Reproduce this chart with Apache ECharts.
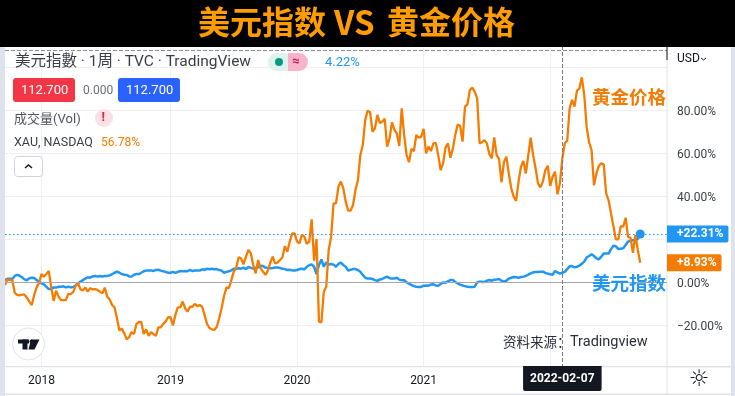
<!DOCTYPE html>
<html>
<head>
<meta charset="utf-8">
<title>美元指数 VS 黄金价格</title>
<style>
html, body { margin: 0; padding: 0; background: #fff; }
#chart { width: 735px; height: 396px; }
</style>
<script src="https://cdn.jsdelivr.net/npm/echarts@6/dist/echarts.min.js"></script>
</head>
<body>
<div id="chart"></div>
<script>
// 周线，第一根 2017-09-18，单位 %
const firstWeek = '2017-09-18'
const weekCount = 273 // 最后 11 周是图右侧的留白

const goldValues = [
    -1.4, 1.2, 0.9, 0.9, -5, -6, -6.2, -5.9, -5.9, -7.3,
    -9.1, -10.7, -6, -2.5, -0.3, 3.7, 2.5, 3.7, 5.1, -2.5,
    -8.8, -4, -6.8, -8.4, -8.4, -8.4, -5.6, -5.6, -4.7, -1.9,
    -0.6, -3.4, -4, -2.6, -4.5, -2.9, -3.4, -3.3, -3.7, -4.5,
    -5.3, -2.6, -6.8, -8.1, -10.7, -11.8, -16.9, -22.6, -21.6, -23.9,
    -26.7, -25.7, -23.3, -24.2, -19.5, -18.6, -18.6, -24.2, -22, -25.1,
    -23.3, -24.2, -25.1, -21.1, -21.1, -19.5, -18.4, -16.4, -16.4, -20.2,
    -15.3, -11.8, -11.8, -9.1, -12.2, -13.8, -11.5, -11.5, -10.2, -11.2,
    -10.7, -11.5, -15.3, -19.5, -21.4, -22, -22.3, -20.8, -16.9, -12.2,
    -6.5, -2.5, -2.9, 0.9, 4.8, 6.7, 11.5, 10.9, 8.2, 11.8,
    14.9, 13.3, 7.9, 4, 10.2, 6.4, 4.8, 3.3, 5.3, 9,
    11.8, 8.7, 9, 10.2, 11.5, 16.7, 14.1, 18.8, 22.6, 22.6,
    18.8, 18, 21.9, 21.1, 17.7, 18.8, 29.1, 9.9, 20, -18.4,
    -18.8, -4.5, -2.2, 14.9, 21.1, 36.6, 36.6, 44.3, 46.7, 43.6,
    37.4, 33.2, 33.2, 35.8, 42.8, 47.4, 59, 63.7, 75.3, 79.7,
    79, 69.9, 71.5, 77.7, 74, 74.6, 76, 63, 66.8, 74.3,
    70.7, 69.1, 63.3, 80.8, 68.4, 59, 55.7, 61.9, 60.9, 68.4,
    67.1, 67.6, 71.2, 59.8, 63, 60.9, 64.5, 64.7, 59, 52.1,
    55.2, 62.5, 64.5, 57.8, 61.9, 68.4, 73.3, 72.7, 65.3, 81.6,
    82.6, 89.3, 90.4, 88.5, 85.4, 64.5, 65, 66, 64.5, 59.5,
    57.5, 67.3, 59, 57.2, 46.4, 55.7, 58.3, 50.5, 43.6, 39.7,
    37.7, 46.7, 53.6, 56.3, 50.5, 59, 67.1, 59, 52.9, 45.9,
    44, 46.7, 52, 54.1, 44.7, 49, 51.3, 40.8, 45.9, 57.5,
    64.5, 65.7, 80.8, 84.7, 81.6, 89, 90, 95.2, 87, 72,
    65, 61.4, 45, 50.5, 54, 55.2, 54.7, 41.2, 38, 31.9,
    26, 19.8, 19.8, 26, 25.7, 29.9, 21, 20.6, 13.6, 21.9,
    15, 8.93
]

const dxyValues = [
    0.9, 1.5, 1.5, 1.4, 2.8, 3.3, 2.9, 2.2, 1.2, 0.8,
    1.7, 2, 1.9, 0.9, 0.2, -0.6, -1.1, -2.2, -3.3, -3.3,
    -2.5, -2.6, -2.2, -2.2, -2, -2.5, -2.2, -2.5, -2.3, -1.6,
    -0.6, 0.2, 0.9, 1.6, 2.2, 2, 2.6, 2.8, 2.5, 2.8,
    2.6, 2.8, 2.8, 3.1, 3.6, 4.3, 4.8, 4.3, 3.7, 3.4,
    3.3, 2.6, 2.5, 3.4, 3.7, 3.7, 4.3, 5, 5.3, 5.3,
    5.4, 5.1, 5.6, 5.7, 5.3, 5, 4.7, 4.3, 4.3, 4.7,
    4.2, 4.7, 5.1, 5, 5.1, 5, 5.6, 5.1, 5.3, 5.3,
    5.3, 5.9, 5.6, 6.2, 5.9, 6.2, 5.9, 6, 5.6, 5.3,
    4.3, 4.7, 5, 5.4, 6.2, 6.2, 6.4, 6.2, 6.7, 6,
    7, 6.6, 6.2, 6.6, 6.8, 7.6, 7.4, 6.7, 6.5, 6.4,
    6.5, 6.7, 6.8, 6.5, 6.2, 6, 5.6, 5.7, 5.4, 5.3,
    5.6, 6, 6.2, 5.9, 7.1, 7.8, 8.2, 7.1, 3.7, 7.9,
    10.5, 7.1, 9.1, 8.1, 8.4, 8.1, 7.1, 8.4, 9, 7.9,
    7.1, 5.3, 5.7, 6, 6, 5.6, 4.8, 3.3, 2, 1.6,
    1.6, 1.4, 0.9, 0.5, 1.2, 1.4, 2, 2.5, 1.7, 1.6,
    1.6, 2, 1.1, 0.8, 0.8, -0.2, -0.8, -1.4, -1.9, -2.2,
    -2.3, -2.3, -1.7, -1.6, -1.7, -1.2, -1.1, -1.6, -1.7, -0.9,
    -0.2, -0.3, 0.3, 0.9, 0.9, 0, -0.6, -1.2, -1.6, -1.9,
    -2.2, -2.3, -2.3, -2.2, -0.2, 0.2, 0, 0, 0.6, 0.9,
    0.6, 1.1, 1.2, 1.4, 0.6, 0.2, 0.6, 1.6, 2, 2.3,
    2.2, 2, 2.3, 2.5, 2.8, 3.4, 4, 4.5, 4.7, 4.7,
    4.8, 4.8, 4.2, 3.9, 3.6, 3.4, 5.1, 4.5, 3.9, 4.3,
    4.7, 6, 7.3, 7.4, 6.8, 7.1, 7.6, 8.5, 9.5, 11.5,
    12.1, 12.9, 12.1, 11, 10.5, 11.8, 13.2, 13.3, 13.2, 15.3,
    16.9, 16.6, 15.3, 15.5, 15.7, 17.2, 18.8, 19.2, 19.4, 19.4,
    20, 22.31
]

const yearWeeks = [15, 68, 120, 172, 224]
const yearLabels = ['2018', '2019', '2020', '2021', '']
const hiddenTicks = [100, 20, -40] // 20% 被蓝色标签盖住
const cursorDate = '2022-02-07'
const cursorLevel = 107.7

// 生成周线的类目
const weeks = []
for (let i = 0; i < weekCount; i++) {
    const d = new Date(Date.parse(firstWeek + 'T00:00:00Z') + i * 7 * 86400000)
    weeks.push(d.toISOString().slice(0, 10))
}
const lastDate = weeks[dxyValues.length - 1]
const dxyLast = dxyValues[dxyValues.length - 1]
const goldLast = goldValues[goldValues.length - 1]

const BLUE = '#2196f3'
const ORANGE = '#f57c00'
const GRID = '#eef0f6'
const BORDER = '#e0e3eb'
const FONT = 'Roboto, "Noto Sans CJK TC", sans-serif'
const CJK = '"Noto Sans CJK SC", sans-serif'

function tag (value, color, lineStyle) {
    return {
        yAxis: value,
        lineStyle: lineStyle,
        label: {
            show: true,
            position: 'end',
            distance: 0,
            formatter: '+' + value.toFixed(2) + '%',
            color: '#fff',
            fontFamily: FONT,
            fontSize: 12,
            fontWeight: 'bold',
            backgroundColor: color,
            padding: [3, 5, 2, 10],
            borderRadius: [0, 2, 2, 0]
        }
    }
}

function text (x, y, str, size, color, extra) {
    return {
        type: 'text',
        x: x,
        y: y,
        z: 30,
        style: Object.assign({
            text: str,
            fontSize: size,
            fontFamily: FONT,
            fill: color,
            textVerticalAlign: 'middle',
            verticalAlign: 'middle'
        }, extra || {})
    }
}

function box (x, y, w, h, fill, r, z, extra) {
    return {
        type: 'rect',
        z: z === undefined ? 30 : z,
        shape: { x: x, y: y, width: w, height: h, r: r || 0 },
        style: Object.assign({ fill: fill }, extra || {})
    }
}

const chrome = [
    // 顶部标题栏
    box(0, 0, 735, 47, '#000', 0, 20),
    text(198, 22, '美元指数', 32, '#ff9d00', { fontFamily: CJK, fontWeight: 'bold' }),
    text(334, 22, 'VS', 33, '#ff9d00', { fontFamily: CJK, fontWeight: 'bold' }),
    text(387, 22, '黄金价格', 32, '#ff9d00', { fontFamily: CJK, fontWeight: 'bold' }),
    // 两侧和底部边框
    box(0, 47, 5, 349, BORDER, 0, 20),
    box(731, 47, 4, 349, BORDER, 0, 20),
    box(5, 393.5, 726, 1.5, BORDER, 0, 20),
    box(5, 366, 726, 1.5, BORDER, 0, 1),
    box(5, 367.5, 662, 2, '#fff', 0, 1),
    box(666.5, 47, 1, 347, BORDER, 0, 1),
    box(666.5, 47, 1, 13, '#131722', 0, 20),
    // 左上角图例
    text(15, 62.5, '美元指數 · 1周 · TVC · TradingView', 15.5, '#3a3e4a'),
    box(268, 53, 20, 18, '#dff2ee', [9, 0, 0, 9]),
    box(288, 53, 20, 18, '#f8b4cb', [0, 9, 9, 0]),
    { type: 'circle', z: 31, shape: { cx: 279, cy: 62, r: 4 }, style: { fill: '#089981' } },
    text(292, 62, '≈', 13, '#c2185b', { fontWeight: 'bold' }),
    text(325, 63, '4.22%', 13, BLUE),
    box(13, 78, 62, 24, '#f23645', 3),
    text(21, 90.5, '112.700', 13, '#fff'),
    text(83, 90.5, '0.000', 12, '#6a6d78'),
    box(118, 78, 62, 24, '#2962ff', 3),
    text(126, 90.5, '112.700', 13, '#fff'),
    text(14, 120, '成交量(Vol)', 13, '#50535e'),
    { type: 'circle', z: 30, shape: { cx: 104, cy: 118, r: 9 }, style: { fill: '#fde0e3' } },
    text(101.5, 118, '!', 13, '#e0263c', { fontWeight: 'bold' }),
    text(14, 143, 'XAU, NASDAQ', 12.5, '#3a3e4a'),
    text(101, 143, '56.78%', 12, ORANGE),
    box(14.5, 156.5, 28, 20, '#fff', 3, 30, { stroke: '#d1d4dc', lineWidth: 1 }),
    { type: 'polyline', z: 31, shape: { points: [[25, 168], [28.5, 165], [32, 168]] }, style: { stroke: '#131722', lineWidth: 1.5, fill: null } },
    // TradingView 角标
    { type: 'circle', z: 30, shape: { cx: 28.5, cy: 344, r: 16 }, style: { fill: '#fff', stroke: BORDER, lineWidth: 1 } },
    box(18, 339.5, 11, 4, '#131722'),
    box(22.5, 339.5, 5, 10, '#131722'),
    { type: 'polygon', z: 30, shape: { points: [[31, 339.5], [39.5, 339.5], [34.5, 349.5], [28.5, 349.5]] }, style: { fill: '#131722' } },
    { type: 'circle', z: 30, shape: { cx: 31.5, cy: 341.5, r: 2 }, style: { fill: '#131722' } },
    // 手写标注
    text(592, 97, '黄金价格', 18.5, ORANGE, { fontFamily: CJK, fontWeight: 'bold' }),
    text(592, 283, '美元指数', 18.5, BLUE, { fontFamily: CJK, fontWeight: 'bold' }),
    text(503, 342, '资料来源：', 13.5, '#2a2e39', { fontFamily: CJK }),
    text(570, 342, 'Tradingview', 14.5, '#2a2e39'),
    // 右上角和右下角
    text(677, 59, 'USD', 12, '#131722'),
    { type: 'polyline', z: 31, shape: { points: [[701, 58], [703.5, 60], [706, 58]] }, style: { stroke: '#131722', lineWidth: 1, fill: null } },
    text(699, 380, '☼', 23, '#131722', { fontFamily: 'DejaVu Sans', align: 'center', textAlign: 'center' })
]

const myChart = echarts.init(document.getElementById('chart'), null, { renderer: 'canvas' })
myChart.setOption({
    animation: false,
    backgroundColor: '#fff',
    grid: { left: 5, right: 68, top: 45.5, bottom: 28 },
    xAxis: {
        type: 'category',
        data: weeks,
        boundaryGap: false,
        axisLine: { show: false },
        axisTick: { show: false },
        splitLine: {
            show: true,
            interval: (index) => yearWeeks.includes(index),
            lineStyle: { color: GRID, width: 1 }
        },
        axisLabel: {
            interval: (index) => yearWeeks.includes(index),
            formatter: (value, index) => yearLabels[yearWeeks.indexOf(index)] || '',
            color: '#131722',
            fontFamily: FONT,
            fontSize: 12,
            margin: 7,
            hideOverlap: false
        }
    },
    yAxis: {
        type: 'value',
        position: 'right',
        min: -40,
        max: 110,
        interval: 20,
        axisLine: { show: false },
        axisTick: { show: false },
        splitLine: {
            show: true,
            showMinLine: false,
            showMaxLine: false,
            lineStyle: { color: GRID, width: 1 }
        },
        axisLabel: {
            formatter: (value) => {
                if (value > 100 || hiddenTicks.includes(value)) return ''
                return (value < 0 ? '−' + (-value).toFixed(2) : value.toFixed(2)) + '%'
            },
            color: '#3a3e4a',
            fontFamily: FONT,
            fontSize: 12,
            margin: 10,
            verticalAlign: 'top',
            lineHeight: 4
        }
    },
    series: [
        {
            name: '美元指数',
            type: 'line',
            data: dxyValues,
            symbol: 'none',
            lineStyle: { color: BLUE, width: 2.5 },
            itemStyle: { color: BLUE },
            z: 3,
            markLine: {
                silent: true,
                symbol: 'none',
                animation: false,
                data: [
                    {
                        yAxis: 0,
                        lineStyle: { color: '#a3a6af', width: 1, type: 'solid' },
                        label: { show: false }
                    },
                    tag(dxyLast, BLUE, { color: BLUE, width: 1.2, type: [1.5, 2.5] }),
                    {
                        yAxis: cursorLevel,
                        lineStyle: { color: '#8a8d98', width: 1, type: 'dashed' },
                        label: { show: false }
                    },
                    {
                        xAxis: cursorDate,
                        lineStyle: { color: '#787b86', width: 1, type: 'dashed' },
                        label: {
                            show: true,
                            position: 'start',
                            distance: -2,
                            formatter: cursorDate,
                            color: '#fff',
                            fontFamily: FONT,
                            fontSize: 12,
                            fontWeight: 'bold',
                            backgroundColor: '#131722',
                            padding: [7, 7, 6, 7],
                            borderRadius: [0, 0, 2, 2]
                        }
                    }
                ]
            },
            markPoint: {
                silent: true,
                animation: false,
                symbol: 'circle',
                symbolSize: 9,
                itemStyle: { color: BLUE },
                label: { show: false },
                z: 8,
                data: [{ coord: [lastDate, dxyLast] }]
            }
        },
        {
            name: '黄金价格',
            type: 'line',
            data: goldValues,
            symbol: 'none',
            lineStyle: { color: ORANGE, width: 2.3 },
            itemStyle: { color: ORANGE },
            z: 4,
            markLine: {
                silent: true,
                symbol: 'none',
                animation: false,
                data: [tag(goldLast, ORANGE, { color: 'transparent', width: 1 })]
            }
        }
    ],
    graphic: { elements: chrome }
})
window.addEventListener('resize', function () {
    myChart.resize()
})
</script>
</body>
</html>
